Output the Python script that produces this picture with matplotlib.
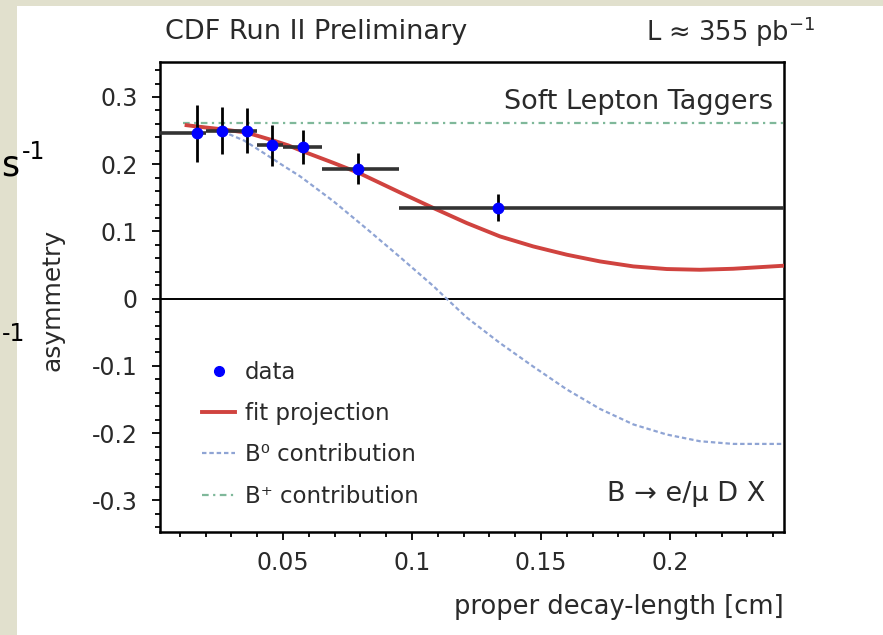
import matplotlib
matplotlib.use('Agg')
import matplotlib.pyplot as plt
from matplotlib.lines import Line2D
from matplotlib.patches import Rectangle
from matplotlib.ticker import MultipleLocator
import numpy as np

plt.rcParams['font.family'] = ['DejaVu Sans']
plt.rcParams['mathtext.fontset'] = 'dejavusans'

# measured points (mean decay length in each bin)
data_x = [0.0168, 0.0262, 0.0359, 0.0456, 0.0578, 0.0792, 0.1332]
data_y = [0.246, 0.250, 0.250, 0.228, 0.226, 0.193, 0.135]
data_yerr = [0.042, 0.035, 0.033, 0.030, 0.025, 0.023, 0.020]
bin_lo = [0.0, 0.020, 0.030, 0.040, 0.050, 0.065, 0.095]
bin_hi = [0.020, 0.030, 0.040, 0.050, 0.065, 0.095, 0.300]

# fit projection
fit_x = [0.0126, 0.0168, 0.0262, 0.0359, 0.0456, 0.0520, 0.0578, 0.0695, 0.0794,
         0.0953, 0.1082, 0.1212, 0.1341, 0.1470, 0.1600, 0.1729, 0.1858, 0.1987,
         0.2116, 0.2245, 0.2440]
fit_y = [0.258, 0.256, 0.252, 0.247, 0.236, 0.228, 0.219, 0.202, 0.187,
         0.158, 0.135, 0.1125, 0.0926, 0.0777, 0.0654, 0.0554, 0.048, 0.0441,
         0.0430, 0.0445, 0.049]

# B0 contribution
b0_x = [0.0126, 0.020, 0.027, 0.035, 0.0436, 0.050, 0.0566, 0.0695, 0.0824, 0.0953,
        0.1082, 0.1134, 0.1212, 0.1341, 0.147, 0.160, 0.1729, 0.1858, 0.1987,
        0.2116, 0.2245, 0.2440]
b0_y = [0.259, 0.255, 0.248, 0.235, 0.214, 0.198, 0.182, 0.145, 0.104, 0.062,
        0.019, 0.0, -0.028, -0.066, -0.101, -0.135, -0.164, -0.187, -0.202,
        -0.212, -0.216, -0.216]

# B+ contribution
bp_x = [0.0112, 0.2440]
bp_y = [0.261, 0.261]

txt = '#2a2a2a'

fig = plt.figure(figsize=(8.83, 6.35), dpi=100)
fig.patch.set_facecolor('#e1e0cd')
fig.patches.append(Rectangle((17 / 883, 0), 1, 1 - 6 / 635, transform=fig.transFigure,
                             facecolor='white', edgecolor='none', zorder=-10))

ax = fig.add_axes([160 / 883, 1 - 532 / 635, 624 / 883, 470 / 635])
ax.set_xlim(0.0023, 0.2442)
ax.set_ylim(-0.347, 0.352)

ax.axhline(0, color='black', lw=1.4, zorder=1)
ax.plot(bp_x, bp_y, color='#7fb89a', lw=1.6, dashes=(3, 2, 1, 2), zorder=2)
ax.plot(b0_x, b0_y, color='#8fa4d4', lw=1.6, dashes=(2, 1.3), zorder=2)
ax.plot(fit_x, fit_y, color='#d0433f', lw=2.8, zorder=3)

xl = np.array(data_x) - np.array(bin_lo)
xh = np.array(bin_hi) - np.array(data_x)
ax.errorbar(data_x, data_y, xerr=[xl, xh], fmt='none', ecolor='#333333',
            elinewidth=2.6, capsize=0, zorder=4)
ax.errorbar(data_x, data_y, yerr=data_yerr, fmt='o', color='blue', ms=7.5,
            ecolor='black', elinewidth=2.0, capsize=0, zorder=5)

for s in ax.spines.values():
    s.set_linewidth(1.8)
ax.xaxis.set_major_locator(MultipleLocator(0.05))
ax.xaxis.set_minor_locator(MultipleLocator(0.01))
ax.yaxis.set_major_locator(MultipleLocator(0.1))
ax.yaxis.set_minor_locator(MultipleLocator(0.02))
ax.tick_params(which='both', direction='out', top=False, right=False,
               labelsize=17, labelcolor=txt, width=1.3)
ax.tick_params(which='major', length=6)
ax.tick_params(which='minor', length=3.5)
ax.tick_params(axis='y', pad=10)
ax.tick_params(axis='x', pad=8)
ax.set_xticks([0.05, 0.1, 0.15, 0.2])
ax.set_xticklabels(['0.05', '0.1', '0.15', '0.2'])
ax.set_yticks([-0.3, -0.2, -0.1, 0, 0.1, 0.2, 0.3])
ax.set_yticklabels(['-0.3', '-0.2', '-0.1', '0', '0.1', '0.2', '0.3'])

ax.set_xlabel('proper decay-length [cm]', fontsize=18.5, color=txt, loc='right', labelpad=13)
fig.text(52 / 883, 1 - 300 / 635, 'asymmetry', rotation=90, fontsize=18, color=txt,
         ha='center', va='center')

fig.text(165 / 883, 1 - 32 / 635, 'CDF Run II Preliminary', fontsize=19.5, color=txt,
         ha='left', va='center')
fig.text(815 / 883, 1 - 32 / 635, 'L \u2248 355 pb$^{-1}$', fontsize=18.5, color=txt,
         ha='right', va='center')
ax.text(0.983, 0.915, 'Soft Lepton Taggers', transform=ax.transAxes, fontsize=19.5,
        color=txt, ha='right', va='center')
ax.text(0.97, 0.08, 'B \u2192 e/\u03bc D X', transform=ax.transAxes, fontsize=19.5,
        color=txt, ha='right', va='center')

handles = [
    Line2D([], [], marker='o', ls='none', color='blue', ms=7),
    Line2D([], [], color='#d0433f', lw=2.8),
    Line2D([], [], color='#8fa4d4', lw=1.6, dashes=(2, 1.3)),
    Line2D([], [], color='#7fb89a', lw=1.6, dashes=(3, 2, 1, 2)),
]
labels = ['data', 'fit projection', 'B\u2070 contribution', 'B\u207a contribution']
leg = ax.legend(handles, labels, loc='lower left', bbox_to_anchor=(0.035, 0.008),
                frameon=False, fontsize=16.5, handlelength=1.4, handletextpad=0.45,
                labelspacing=0.8)
for t in leg.get_texts():
    t.set_color(txt)

# fragments of the slide text behind the plot
fig.text(1 / 883, 1 - 166 / 635, 's', fontsize=25, ha='left', va='center', color='black')
fig.text(22 / 883, 1 - 152 / 635, '-1', fontsize=17, ha='left', va='center', color='black')
fig.text(2 / 883, 1 - 334 / 635, '-1', fontsize=17, ha='left', va='center', color='black')

fig.savefig('out.png', dpi=100)
